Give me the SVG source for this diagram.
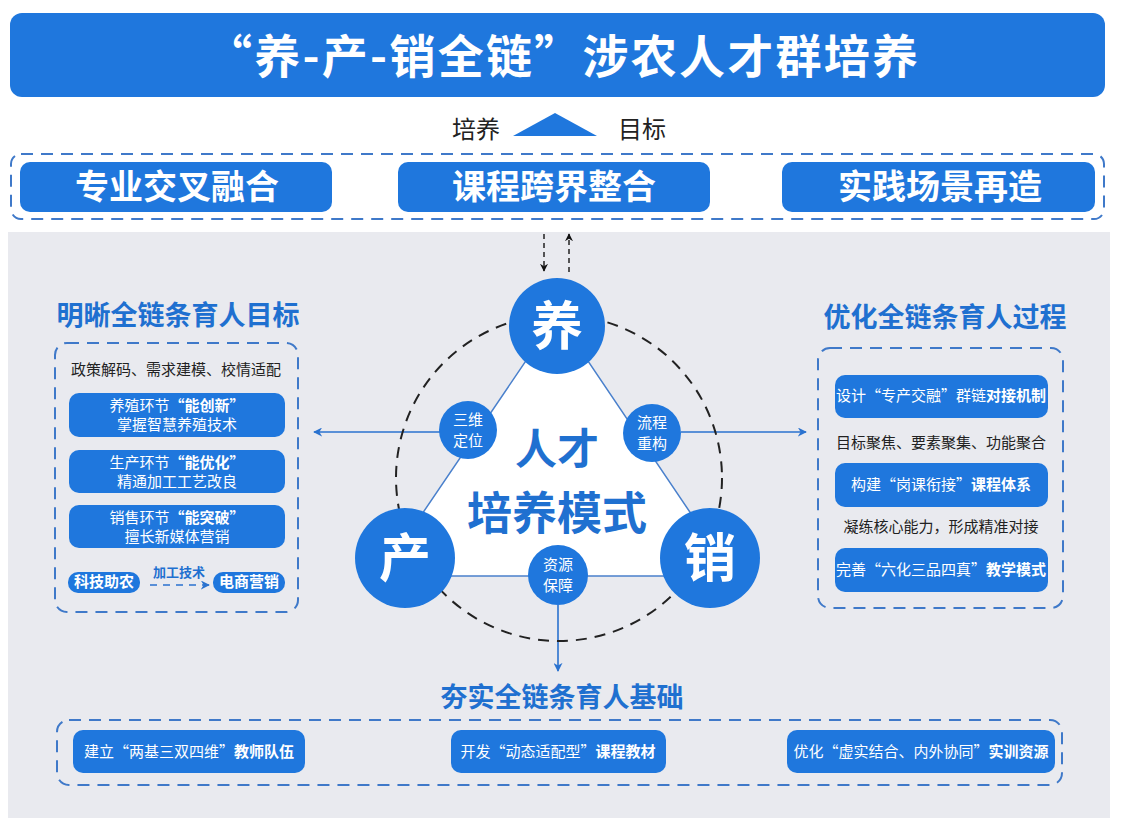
<svg xmlns="http://www.w3.org/2000/svg" width="1127" height="829" viewBox="0 0 1127 829">
<defs>
<style>
text{font-family:"Noto Sans CJK SC","Noto Sans",sans-serif}
.blue{fill:#1f77dd}
.dash{fill:none;stroke:#3f79c9;stroke-width:2;stroke-dasharray:12 8}
.wt{fill:#fff;font-size:15px;text-anchor:middle}
.bt{font-weight:700}
.hd{fill:#1f70d0;font-weight:700;text-anchor:middle}
.bk{fill:#222;font-size:15px;text-anchor:middle}
.big{fill:#fff;font-weight:700;font-size:34px;text-anchor:middle}
.conn{stroke:#2a72cf;stroke-width:1.6;fill:none}
.blk{stroke:#222;stroke-width:1.5;stroke-dasharray:5 4;fill:none}
</style>
<marker id="ab" viewBox="0 0 10 10" refX="9" refY="5" markerWidth="9" markerHeight="9" orient="auto-start-reverse" markerUnits="userSpaceOnUse"><path d="M0,0 L10,5 L0,10 L3,5 Z" fill="#2a72cf"/></marker>
<marker id="ak" viewBox="0 0 10 10" refX="9" refY="5" markerWidth="8" markerHeight="8" orient="auto" markerUnits="userSpaceOnUse"><path d="M0,0 L10,5 L0,10 L3,5 Z" fill="#111"/></marker>
</defs>
<rect width="1127" height="829" fill="#fff"/>
<rect x="8" y="232" width="1102" height="586" fill="#e9eaef"/>

<g id="title">
<rect x="10" y="13" width="1095" height="84" rx="12" class="blue"/>
<text x="562" y="73" fill="#fff" font-size="46" font-weight="700" text-anchor="middle" textLength="712" lengthAdjust="spacing">“养-产-销全链”涉农人才群培养</text>
</g>

<g id="goal">
<text x="476" y="138" fill="#222" font-size="24" text-anchor="middle">培养</text>
<polygon points="513,136 555,113 597,136" class="blue"/>
<text x="642" y="138" fill="#222" font-size="24" text-anchor="middle">目标</text>
</g>

<g id="top-group">
<rect x="11" y="154" width="1093" height="65" rx="10" class="dash"/>
<g id="t1"><rect x="20" y="162" width="312" height="50" rx="10" class="blue"/><text x="177" y="199" class="big">专业交叉融合</text></g>
<g id="t2"><rect x="398" y="162" width="312" height="50" rx="10" class="blue"/><text x="554" y="199" class="big">课程跨界整合</text></g>
<g id="t3"><rect x="782" y="162" width="313" height="50" rx="10" class="blue"/><text x="940" y="199" class="big">实践场景再造</text></g>
</g>

<g id="connectors">
<line x1="544" y1="234" x2="544" y2="271" class="blk" marker-end="url(#ak)"/>
<line x1="569" y1="272" x2="569" y2="234" class="blk" marker-end="url(#ak)"/>
<line x1="440" y1="432" x2="314" y2="432" class="conn" marker-end="url(#ab)"/>
<line x1="681" y1="432" x2="806" y2="432" class="conn" marker-end="url(#ab)"/>
<line x1="558" y1="605" x2="558" y2="671" class="conn" marker-end="url(#ab)"/>
<line x1="150" y1="585" x2="209" y2="585" stroke="#2a72cf" stroke-width="1.6" stroke-dasharray="7 6" marker-end="url(#ab)"/>
</g>

<g id="center">
<circle cx="559" cy="478" r="163" fill="none" stroke="#222" stroke-width="2" stroke-dasharray="11 8"/>
<polygon points="557,315 380,576 733,576" fill="#fff" stroke="#4a80cc" stroke-width="1.5"/>
<text x="557" y="464" class="hd" font-size="42">人才</text>
<text x="557" y="530" class="hd" font-size="45">培养模式</text>
</g>
<g id="node-yang"><circle cx="557" cy="326" r="48" class="blue"/><text x="557" y="345" fill="#fff" font-size="52" font-weight="700" text-anchor="middle">养</text></g>
<g id="node-chan"><circle cx="405" cy="558" r="50" class="blue"/><text x="405" y="577" fill="#fff" font-size="52" font-weight="700" text-anchor="middle">产</text></g>
<g id="node-xiao"><circle cx="710" cy="558" r="50" class="blue"/><text x="710" y="577" fill="#fff" font-size="52" font-weight="700" text-anchor="middle">销</text></g>
<g id="node-sanwei"><circle cx="468" cy="430" r="29" class="blue"/><text x="468" y="425" class="wt" font-size="17">三维</text><text x="468" y="446" class="wt" font-size="17">定位</text></g>
<g id="node-liucheng"><circle cx="652" cy="433" r="29" class="blue"/><text x="652" y="428" class="wt" font-size="17">流程</text><text x="652" y="449" class="wt" font-size="17">重构</text></g>
<g id="node-ziyuan"><circle cx="558" cy="575" r="30" class="blue"/><text x="558" y="570" class="wt" font-size="17">资源</text><text x="558" y="591" class="wt" font-size="17">保障</text></g>

<g id="left-panel">
<text x="178" y="325" class="hd" font-size="27">明晰全链条育人目标</text>
<rect x="55" y="343" width="243" height="269" rx="12" class="dash"/>
<text x="176" y="375" class="bk" font-size="15.5">政策解码、需求建模、校情适配</text>
<g id="l1"><rect x="69" y="393" width="216" height="44" rx="10" class="blue"/><text x="177" y="411" class="wt">养殖环节<tspan class="bt">“能创新”</tspan></text><text x="177" y="430" class="wt">掌握智慧养殖技术</text></g>
<g id="l2"><rect x="69" y="450" width="216" height="43" rx="10" class="blue"/><text x="177" y="468" class="wt">生产环节<tspan class="bt">“能优化”</tspan></text><text x="177" y="487" class="wt">精通加工工艺改良</text></g>
<g id="l3"><rect x="69" y="505" width="216" height="43" rx="10" class="blue"/><text x="177" y="523" class="wt">销售环节<tspan class="bt">“能突破”</tspan></text><text x="177" y="542" class="wt">擅长新媒体营销</text></g>
<g id="l4"><rect x="68" y="572" width="72" height="21" rx="10" class="blue"/><text x="104" y="587" class="wt bt" font-size="13">科技助农</text></g>
<text x="179" y="577" fill="#1f70d0" font-size="13" font-weight="700" text-anchor="middle">加工技术</text>
<g id="l5"><rect x="213" y="572" width="72" height="21" rx="10" class="blue"/><text x="249" y="587" class="wt bt" font-size="13">电商营销</text></g>
</g>

<g id="right-panel">
<text x="945" y="327" class="hd" font-size="27">优化全链条育人过程</text>
<rect x="818" y="348" width="245" height="260" rx="12" class="dash"/>
<g id="r1"><rect x="835" y="375" width="213" height="43" rx="10" class="blue"/><text x="941" y="401" class="wt" font-size="13.5">设计“专产交融”群链<tspan class="bt">对接机制</tspan></text></g>
<text x="941" y="448" class="bk" font-size="14.3">目标聚焦、要素聚集、功能聚合</text>
<g id="r2"><rect x="835" y="463" width="213" height="44" rx="10" class="blue"/><text x="941" y="490" class="wt" font-size="13.5">构建“岗课衔接”<tspan class="bt">课程体系</tspan></text></g>
<text x="941" y="532" class="bk" font-size="14.3">凝练核心能力，形成精准对接</text>
<g id="r3"><rect x="835" y="548" width="213" height="44" rx="10" class="blue"/><text x="941" y="575" class="wt" font-size="13.5">完善“六化三品四真”<tspan class="bt">教学模式</tspan></text></g>
</g>

<g id="bottom-panel">
<text x="562" y="707" class="hd" font-size="27">夯实全链条育人基础</text>
<rect x="57" y="720" width="1005" height="65" rx="12" class="dash"/>
<g id="b1"><rect x="73" y="730" width="232" height="43" rx="10" class="blue"/><text x="189" y="757" class="wt" font-size="14">建立“两基三双四维”<tspan class="bt">教师队伍</tspan></text></g>
<g id="b2"><rect x="451" y="730" width="215" height="43" rx="10" class="blue"/><text x="558" y="757" class="wt" font-size="14">开发“动态适配型”<tspan class="bt">课程教材</tspan></text></g>
<g id="b3"><rect x="787" y="730" width="268" height="43" rx="10" class="blue"/><text x="921" y="757" class="wt" font-size="14">优化“虚实结合、内外协同”<tspan class="bt">实训资源</tspan></text></g>
</g>
</svg>
